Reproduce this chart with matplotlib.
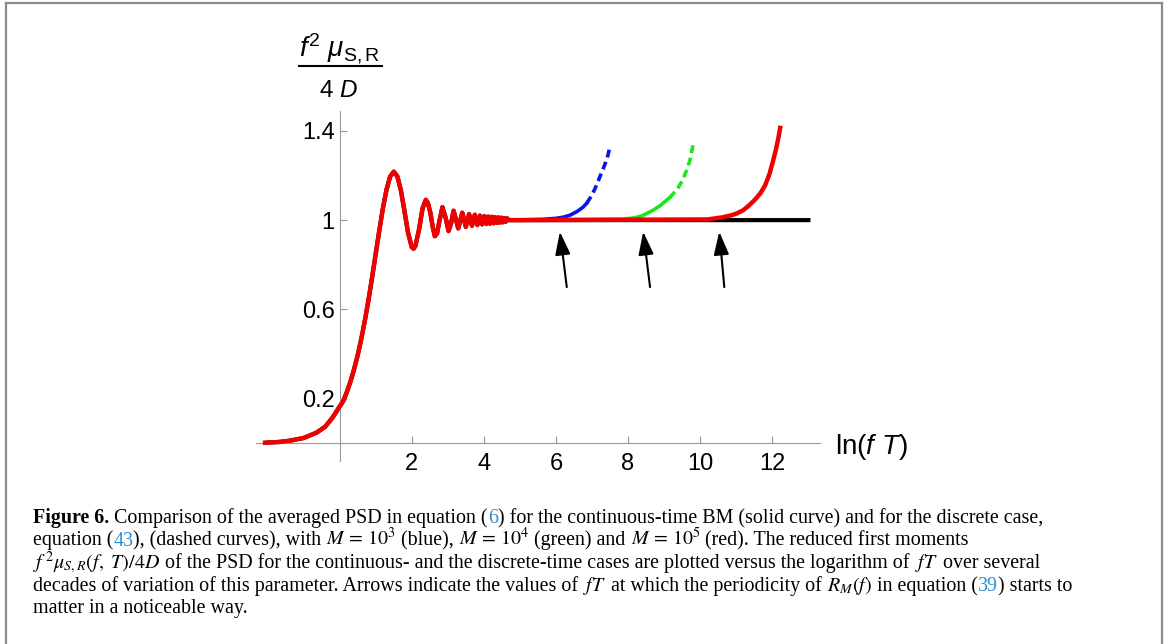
import matplotlib
matplotlib.use('Agg')
import matplotlib.pyplot as plt
from matplotlib.lines import Line2D

plt.rcParams['font.family'] = ['Liberation Sans', 'DejaVu Sans']
plt.rcParams['mathtext.fontset'] = 'custom'
plt.rcParams['mathtext.rm'] = 'Liberation Sans'
plt.rcParams['mathtext.it'] = 'Liberation Sans:italic'
plt.rcParams['mathtext.bf'] = 'Liberation Sans:bold'

# continuous-time curve (x = ln(fT))
main_x = [-2.07, -1.7, -1.38, -1.0, -0.64, -0.4, -0.2, 0.0, 0.1, 0.2, 0.3, 0.4,
          0.5, 0.6, 0.7, 0.8, 0.9, 1.0, 1.1, 1.2, 1.3, 1.4, 1.5, 1.6,
          1.7, 1.8, 1.9, 2.0, 2.05, 2.1, 2.2, 2.3, 2.39, 2.45, 2.52, 2.58,
          2.64, 2.70, 2.76, 2.85, 2.94, 3.02, 3.09, 3.16, 3.23, 3.29, 3.35, 3.40,
          3.50, 3.59, 3.67, 3.75, 3.82, 3.89, 3.95, 4.01, 4.07, 4.12, 4.17, 4.22,
          4.27, 4.31, 4.36, 4.40, 4.44, 4.48, 4.52, 4.56, 4.60, 4.64, 4.70]
main_y = [0.003, 0.006, 0.012, 0.024, 0.048, 0.075, 0.115, 0.165, 0.19, 0.23, 0.277, 0.332,
          0.395, 0.468, 0.551, 0.643, 0.744, 0.849, 0.954, 1.054, 1.137, 1.195, 1.217, 1.196,
          1.132, 1.038, 0.941, 0.879, 0.872, 0.884, 0.957, 1.053, 1.091, 1.075, 1.03, 0.97,
          0.928, 0.94, 0.99, 1.058, 1.01, 0.951, 0.985, 1.042, 1.0, 0.963, 1.0, 1.033,
          0.970, 1.027, 0.975, 1.024, 0.978, 1.020, 0.981, 1.018, 0.983, 1.016, 0.984, 1.015,
          0.986, 1.013, 0.988, 1.012, 0.989, 1.011, 0.99, 1.009, 0.992, 1.008, 1.0]

black_tail_x = [13.06]
black_tail_y = [1.0]

# discrete-time curves, where they leave the plateau
blue_x = [4.7, 5.6, 6.0, 6.2, 6.39, 6.6, 6.75, 6.85, 6.95, 7.05, 7.15, 7.22, 7.3, 7.38, 7.44, 7.5]
blue_y = [1.0, 1.003, 1.008, 1.013, 1.022, 1.04, 1.058, 1.075, 1.1, 1.13, 1.165, 1.195,
          1.225, 1.26, 1.29, 1.33]
green_x = [4.7, 7.9, 8.2, 8.4, 8.7, 8.9, 9.0, 9.15, 9.35, 9.5, 9.63, 9.72, 9.8]
green_y = [1.0, 1.004, 1.011, 1.02, 1.045, 1.066, 1.08, 1.1, 1.135, 1.175, 1.225, 1.27, 1.335]
red_tail_x = [10.2, 10.6, 10.85, 11.02, 11.2, 11.35, 11.5, 11.67, 11.8, 11.92, 12.03,
              12.1, 12.16, 12.22]
red_tail_y = [1.003, 1.012, 1.021, 1.03, 1.045, 1.065, 1.088, 1.12, 1.155, 1.205, 1.27,
              1.315, 1.36, 1.413]

# arrows: (tail x, tail y, tip x, tip y)
arrows = [(6.30, 0.70, 6.11, 0.948),
          (8.61, 0.70, 8.42, 0.948),
          (10.67, 0.70, 10.53, 0.948)]

xticks = [2, 4, 6, 8, 10, 12]
yticks = [0.2, 0.6, 1, 1.4]
ytick_labels = ['0.2', '0.6', '1', '1.4']

W, H = 1168, 644
fig = plt.figure(figsize=(W / 100, H / 100), dpi=100)
ax = fig.add_axes([256.4 / W, 1 - 461 / H, 563.8 / W, 349.6 / H])
ax.set_xlim(-2.31, 13.33)
ax.set_ylim(-0.079, 1.487)

ax.plot(main_x + black_tail_x, main_y + black_tail_y, color='black', lw=3.0,
        solid_capstyle='butt', zorder=2)
ax.plot(blue_x[:8], blue_y[:8], color='#0a14e6', lw=2.6, zorder=3)
ax.plot(blue_x[7:], blue_y[7:], color='#0a14e6', lw=2.6, dashes=(2.2, 1.3), zorder=3)
ax.plot(green_x[:8], green_y[:8], color='#1ee61e', lw=2.6, zorder=3)
ax.plot(green_x[7:], green_y[7:], color='#1ee61e', lw=2.6, dashes=(2.2, 1.3), zorder=3)
ax.plot(main_x + red_tail_x, main_y + red_tail_y, color='#f00000', lw=3.2,
        solid_joinstyle='round', zorder=4)

for tx, ty, hx, hy in arrows:
    ax.annotate('', xy=(hx, hy), xytext=(tx, ty),
                arrowprops=dict(arrowstyle='-|>,head_length=1.0,head_width=0.33',
                                color='black', lw=1.5, shrinkA=0, shrinkB=0,
                                mutation_scale=14))

for s in ['top', 'right']:
    ax.spines[s].set_visible(False)
for s in ['left', 'bottom']:
    ax.spines[s].set_position(('data', 0))
    ax.spines[s].set_color('#9a9a9a')
    ax.spines[s].set_linewidth(0.8)
ax.set_xticks(xticks)
ax.set_xticklabels([str(t) for t in xticks])
ax.set_yticks(yticks)
ax.set_yticklabels(ytick_labels)
ax.tick_params(axis='both', direction='in', length=5, width=0.8, color='#9a9a9a',
               labelsize=17)
ax.tick_params(axis='x', pad=7)
ax.tick_params(axis='y', pad=3.5)
ax.patch.set_visible(False)

# axis labels (y label drawn as a stacked fraction)
fig.text(339 / W, 1 - 57 / H, r'$f^{2}\ \mu_{\mathrm{S,R}}$', ha='center',
         va='baseline', fontsize=20)
fig.add_artist(Line2D([299 / W, 382 / W], [1 - 65.7 / H] * 2, color='black', lw=1.5))
fig.text(338.5 / W, 1 - 96.7 / H, r'$4\ D$', ha='center', va='baseline', fontsize=17.5)
fig.text(835 / W, 1 - 454 / H, r'ln($f\ T$)', ha='left', va='baseline', fontsize=20)

# frame round the figure
frame = dict(color='#8c8c8c', lw=1.6)
fig.add_artist(Line2D([5.5 / W, 1162 / W], [1 - 2.5 / H] * 2, **frame))
fig.add_artist(Line2D([5.5 / W] * 2, [1 - 2.5 / H, 0], **frame))
fig.add_artist(Line2D([1162 / W] * 2, [1 - 2.5 / H, 0], **frame))

# caption
link = '#2a8fd4'
cap_size = 14.45
caption = [
    [('Figure 6.', 'b'), (' Comparison of the averaged PSD in equation (', 'n'), ('6', 'l'),
     (') for the continuous-time BM (solid curve) and for the discrete case,', 'n')],
    [('equation (', 'n'), ('43', 'l'), ('), (dashed curves), with ', 'n'), (r'$M\,=\,10^3$', 'm'),
     (' (blue), ', 'n'), (r'$M\,=\,10^4$', 'm'), (' (green) and ', 'n'), (r'$M\,=\,10^5$', 'm'),
     (' (red). The reduced first moments', 'n')],
    [(r'$f^{\,2}\mu_{S,R}(f,\ T)/4D$', 'm'),
     (' of the PSD for the continuous- and the discrete-time cases are plotted versus the logarithm of ', 'n'),
     (r'$fT$', 'm'), (' over several', 'n')],
    [('decades of variation of this parameter. Arrows indicate the values of ', 'n'), (r'$fT$', 'm'),
     (' at which the periodicity of ', 'n'), (r'$R_M(f)$', 'm'), (' in equation (', 'n'),
     ('39', 'l'), (') starts to', 'n')],
    [('matter in a noticeable way.', 'n')],
]
baselines = [523, 545.5, 568, 591, 613]

renderer = fig.canvas.get_renderer()


def style_of(kind):
    kw = dict(fontsize=cap_size, family='Liberation Serif', math_fontfamily='stix',
              color='black')
    if kind == 'b':
        kw['weight'] = 'bold'
    if kind == 'l':
        kw['color'] = link
    return kw


def advance(s, kw):
    if s.startswith('$'):
        t = fig.text(0, 0, s, **kw)
        w = t.get_window_extent(renderer).width
        t.remove()
        return w
    t1 = fig.text(0, 0, '|' + s + '|', **kw)
    t2 = fig.text(0, 0, '||', **kw)
    w = t1.get_window_extent(renderer).width - t2.get_window_extent(renderer).width
    t1.remove()
    t2.remove()
    return w


for pieces, yb in zip(caption, baselines):
    x = 33.0
    for s, kind in pieces:
        kw = style_of(kind)
        fig.text(x / W, 1 - yb / H, s, va='baseline', ha='left', **kw)
        x += advance(s, kw)

fig.savefig('out.png', dpi=100)
